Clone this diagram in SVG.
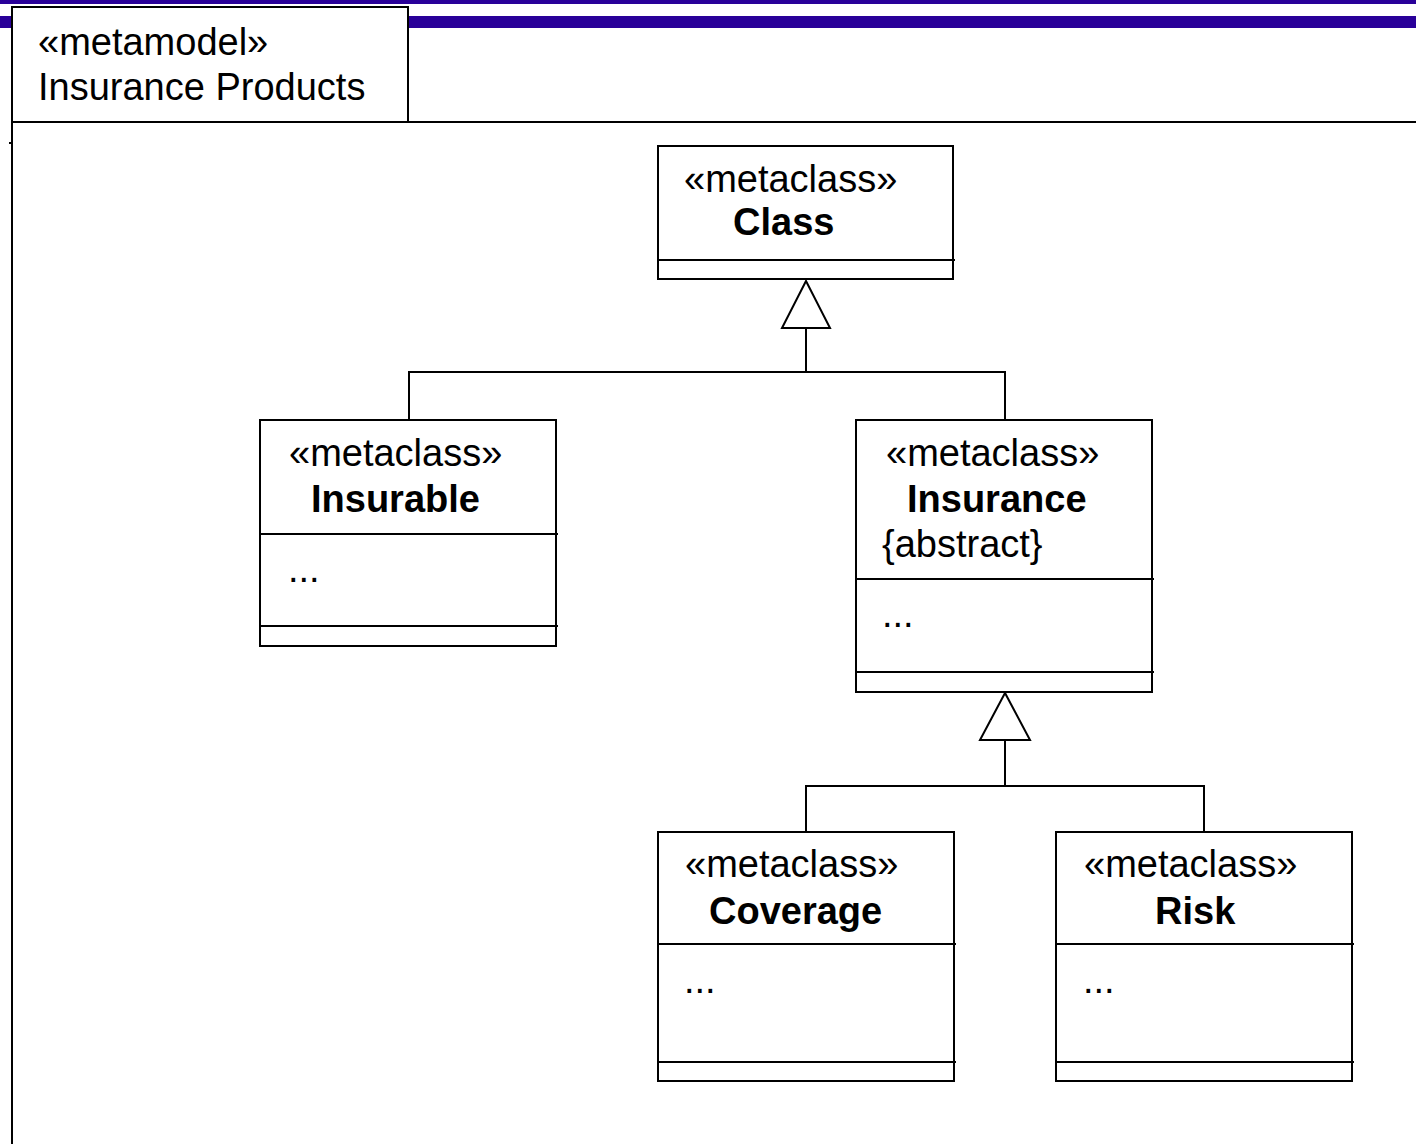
<svg xmlns="http://www.w3.org/2000/svg" width="1416" height="1144" viewBox="0 0 1416 1144">
  <style>
    .box { fill: #ffffff; stroke: #000000; stroke-width: 2; }
    .ln { fill: none; stroke: #000000; stroke-width: 2; }
    .tri { fill: #ffffff; stroke: #000000; stroke-width: 2; stroke-linejoin: miter; }
    text { font-family: "Liberation Sans", Arial, sans-serif; font-size: 38px; fill: #000000; }
    .b { font-weight: bold; }
  </style>

  <!-- page background and title bands -->
  <rect x="0" y="0" width="1416" height="1144" fill="#ffffff"/>
  <rect x="0" y="0" width="1416" height="4" fill="#290099"/>
  <rect x="0" y="16" width="1416" height="12" fill="#290099"/>

  <!-- package frame with name tab -->
  <g id="package">
    <rect class="box" x="12" y="7" width="396" height="115"/>
    <line class="ln" x1="12" y1="122" x2="1416" y2="122"/>
    <line class="ln" x1="12" y1="7" x2="12" y2="1144"/>
    <line class="ln" x1="9" y1="143" x2="12" y2="143"/>
    <text x="38" y="55">«metamodel»</text>
    <text x="38" y="100">Insurance Products</text>
  </g>

  <!-- generalization connectors -->
  <g id="connectors">
    <polyline class="ln" points="409,420 409,372 1005,372 1005,420"/>
    <line class="ln" x1="806" y1="372" x2="806" y2="328"/>
    <polygon class="tri" points="806,281 782,328 830,328"/>
    <polyline class="ln" points="806,832 806,786 1204,786 1204,832"/>
    <line class="ln" x1="1005" y1="786" x2="1005" y2="740"/>
    <polygon class="tri" points="1005,693 980,740 1030,740"/>
  </g>

  <g id="class">
    <rect class="box" x="658" y="146" width="295" height="133"/>
    <line class="ln" x1="658" y1="260" x2="955" y2="260"/>
    <text x="684" y="192">«metaclass»</text>
    <text class="b" x="733" y="235">Class</text>
  </g>

  <g id="insurable">
    <rect class="box" x="260" y="420" width="296" height="226"/>
    <line class="ln" x1="260" y1="534" x2="558" y2="534"/>
    <line class="ln" x1="260" y1="626" x2="558" y2="626"/>
    <text x="289" y="466">«metaclass»</text>
    <text class="b" x="311" y="512">Insurable</text>
    <text x="288" y="582">...</text>
  </g>

  <g id="insurance">
    <rect class="box" x="856" y="420" width="296" height="272"/>
    <line class="ln" x1="856" y1="579" x2="1154" y2="579"/>
    <line class="ln" x1="856" y1="672" x2="1154" y2="672"/>
    <text x="886" y="466">«metaclass»</text>
    <text class="b" x="907" y="512">Insurance</text>
    <text x="882" y="557">{abstract}</text>
    <text x="882" y="627">...</text>
  </g>

  <g id="coverage">
    <rect class="box" x="658" y="832" width="296" height="249"/>
    <line class="ln" x1="658" y1="944" x2="956" y2="944"/>
    <line class="ln" x1="658" y1="1062" x2="956" y2="1062"/>
    <text x="685" y="877">«metaclass»</text>
    <text class="b" x="709" y="924">Coverage</text>
    <text x="684" y="993">...</text>
  </g>

  <g id="risk">
    <rect class="box" x="1056" y="832" width="296" height="249"/>
    <line class="ln" x1="1056" y1="944" x2="1354" y2="944"/>
    <line class="ln" x1="1056" y1="1062" x2="1354" y2="1062"/>
    <text x="1084" y="877">«metaclass»</text>
    <text class="b" x="1155" y="924">Risk</text>
    <text x="1083" y="993">...</text>
  </g>
</svg>
